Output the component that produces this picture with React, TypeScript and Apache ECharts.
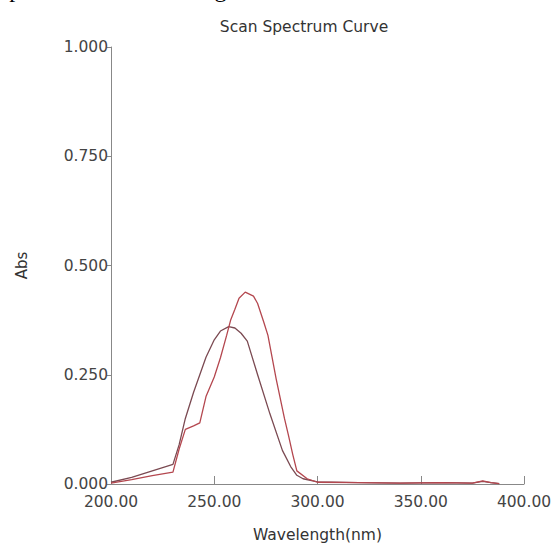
import React, { useEffect, useRef } from "react";
import * as echarts from "echarts";

const titleText = "Scan Spectrum Curve";
const xAxisName = "Wavelength(nm)";
const yAxisName = "Abs";
const headerText = "spectrum and wavelength selected as UV-Vis detection";

const wavelengthsA = [200, 210, 220, 230, 233, 236, 240, 243, 246, 250, 253, 257, 260, 263, 266, 271, 277, 283, 287, 290, 293, 300, 320, 340, 360, 375, 380, 384, 388];
const absA = [0.004, 0.015, 0.03, 0.045, 0.09, 0.15, 0.21, 0.25, 0.29, 0.33, 0.35, 0.36, 0.357, 0.345, 0.327, 0.25, 0.16, 0.077, 0.04, 0.02, 0.012, 0.005, 0.003, 0.002, 0.003, 0.002, 0.006, 0.003, 0.001];

const wavelengthsB = [200, 210, 220, 230, 233, 236, 240, 243, 246, 250, 253, 256, 258, 260, 262, 265, 269, 271, 274, 276, 280, 284, 286, 288, 290, 295, 300, 320, 340, 360, 375, 380, 384, 388];
const absB = [0.002, 0.01, 0.019, 0.027, 0.08, 0.125, 0.133, 0.14, 0.2, 0.245, 0.289, 0.34, 0.376, 0.4, 0.425, 0.439, 0.43, 0.413, 0.37, 0.34, 0.24, 0.15, 0.11, 0.068, 0.03, 0.012, 0.004, 0.003, 0.002, 0.003, 0.002, 0.007, 0.003, 0.001];

const xTicks = { min: 200, max: 400, interval: 50 };
const yTicks = { min: 0, max: 1, interval: 0.25 };

const FONT = "DejaVu Sans";

export default function App() {
  const ref = useRef<HTMLDivElement>(null);
  useEffect(() => {
    if (!ref.current) return;
    const chart = echarts.init(ref.current, null, { renderer: "svg" });
    const pairs = (xs: number[], ys: number[]) => xs.map((x, i) => [x, ys[i]]);
    chart.setOption({
      animation: false,
      backgroundColor: "#ffffff",
      title: {
        text: titleText,
        left: 299,
        top: 14,
        textAlign: "center",
        textStyle: { fontFamily: FONT, fontSize: 15.5, fontWeight: "normal", color: "#333" },
      },
      graphic: [
        {
          type: "text",
          left: 0,
          top: -23,
          style: {
            text: headerText,
            font: "24px 'Liberation Serif'",
            fill: "#000",
          },
        },
      ],
      grid: { left: 111, right: 31, top: 47, bottom: 61, containLabel: false },
      xAxis: {
        type: "value",
        min: xTicks.min,
        max: xTicks.max,
        interval: xTicks.interval,
        name: xAxisName,
        nameLocation: "middle",
        nameGap: 43,
        nameTextStyle: { fontFamily: FONT, fontSize: 15.5, color: "#333" },
        axisLine: { lineStyle: { color: "#888", width: 1 } },
        axisTick: { inside: true, length: 8, lineStyle: { color: "#888" } },
        axisLabel: {
          fontFamily: FONT,
          fontSize: 15.5,
          color: "#444",
          margin: 10,
          formatter: (v: number) => v.toFixed(2),
        },
        splitLine: { show: false },
      },
      yAxis: {
        type: "value",
        min: yTicks.min,
        max: yTicks.max,
        interval: yTicks.interval,
        name: yAxisName,
        nameLocation: "middle",
        nameGap: 82,
        nameRotate: 90,
        nameTextStyle: { fontFamily: FONT, fontSize: 15, color: "#333" },
        axisLine: { show: true, lineStyle: { color: "#888", width: 1 } },
        axisTick: { show: true, inside: false, length: 4, lineStyle: { color: "#888" } },
        axisLabel: {
          fontFamily: FONT,
          fontSize: 15.5,
          color: "#444",
          margin: 3,
          formatter: (v: number) => v.toFixed(3),
        },
        splitLine: { show: false },
      },
      series: [
        {
          type: "line",
          data: pairs(wavelengthsA, absA),
          showSymbol: false,
          lineStyle: { color: "#7b4a52", width: 1.3 },
          itemStyle: { color: "#7b4a52" },
        },
        {
          type: "line",
          data: pairs(wavelengthsB, absB),
          showSymbol: false,
          lineStyle: { color: "#b4474f", width: 1.3 },
          itemStyle: { color: "#b4474f" },
        },
      ],
    });
    return () => chart.dispose();
  }, []);
  return <div ref={ref} style={{ width: 555, height: 548, position: "absolute", left: 0, top: 0 }} />;
}
